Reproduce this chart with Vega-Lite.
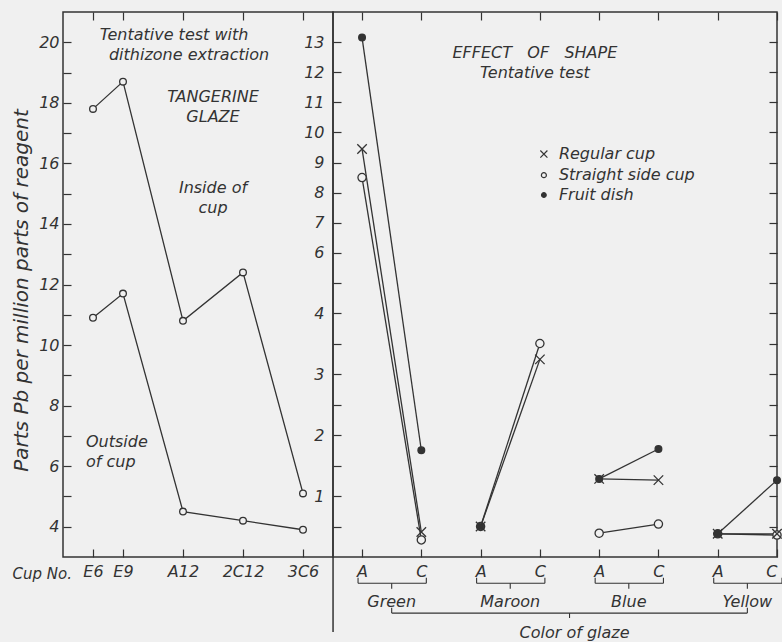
{
  "$schema": "https://vega.github.io/schema/vega-lite/v6.json",
  "background": "#f0f0f0",
  "padding": {"left": 10, "top": 10, "right": 0, "bottom": 0},
  "bounds": "flush",
  "spacing": 0,
  "resolve": {"scale": {"x": "independent", "y": "independent"}, "axis": {"x": "independent", "y": "independent"}},
  "datasets": {
    "cups": [
      {"cup": "E6", "location": "Inside of cup", "ppm": 17.8},
      {"cup": "E9", "location": "Inside of cup", "ppm": 18.7},
      {"cup": "A12", "location": "Inside of cup", "ppm": 10.8},
      {"cup": "2C12", "location": "Inside of cup", "ppm": 12.4},
      {"cup": "3C6", "location": "Inside of cup", "ppm": 5.1},
      {"cup": "E6", "location": "Outside of cup", "ppm": 10.9},
      {"cup": "E9", "location": "Outside of cup", "ppm": 11.7},
      {"cup": "A12", "location": "Outside of cup", "ppm": 4.5},
      {"cup": "2C12", "location": "Outside of cup", "ppm": 4.2},
      {"cup": "3C6", "location": "Outside of cup", "ppm": 3.9}
    ],
    "shape": [
      {"sample": "Green A", "glaze": "Green", "type": "Straight side cup", "ppm": 8.5},
      {"sample": "Green C", "glaze": "Green", "type": "Straight side cup", "ppm": 0.28},
      {"sample": "Maroon A", "glaze": "Maroon", "type": "Straight side cup", "ppm": 0.5},
      {"sample": "Maroon C", "glaze": "Maroon", "type": "Straight side cup", "ppm": 3.5},
      {"sample": "Blue A", "glaze": "Blue", "type": "Straight side cup", "ppm": 0.39},
      {"sample": "Blue C", "glaze": "Blue", "type": "Straight side cup", "ppm": 0.54},
      {"sample": "Yellow A", "glaze": "Yellow", "type": "Straight side cup", "ppm": 0.38},
      {"sample": "Yellow C", "glaze": "Yellow", "type": "Straight side cup", "ppm": 0.36},
      {"sample": "Green A", "glaze": "Green", "type": "Fruit dish", "ppm": 13.15},
      {"sample": "Green C", "glaze": "Green", "type": "Fruit dish", "ppm": 1.75},
      {"sample": "Maroon A", "glaze": "Maroon", "type": "Fruit dish", "ppm": 0.5},
      {"sample": "Blue A", "glaze": "Blue", "type": "Fruit dish", "ppm": 1.28},
      {"sample": "Blue C", "glaze": "Blue", "type": "Fruit dish", "ppm": 1.77},
      {"sample": "Yellow A", "glaze": "Yellow", "type": "Fruit dish", "ppm": 0.38},
      {"sample": "Yellow C", "glaze": "Yellow", "type": "Fruit dish", "ppm": 1.26},
      {"sample": "Green A", "glaze": "Green", "type": "Regular cup", "ppm": 9.45},
      {"sample": "Green C", "glaze": "Green", "type": "Regular cup", "ppm": 0.41},
      {"sample": "Maroon A", "glaze": "Maroon", "type": "Regular cup", "ppm": 0.5},
      {"sample": "Maroon C", "glaze": "Maroon", "type": "Regular cup", "ppm": 3.24},
      {"sample": "Blue A", "glaze": "Blue", "type": "Regular cup", "ppm": 1.28},
      {"sample": "Blue C", "glaze": "Blue", "type": "Regular cup", "ppm": 1.26},
      {"sample": "Yellow A", "glaze": "Yellow", "type": "Regular cup", "ppm": 0.38},
      {"sample": "Yellow C", "glaze": "Yellow", "type": "Regular cup", "ppm": 0.38}
    ],
    "groups": [
      {"glaze": "Green", "a": "Green A", "c": "Green C"},
      {"glaze": "Maroon", "a": "Maroon A", "c": "Maroon C"},
      {"glaze": "Blue", "a": "Blue A", "c": "Blue C"},
      {"glaze": "Yellow", "a": "Yellow A", "c": "Yellow C"}
    ],
    "one": [{}]
  },
  "hconcat": [
    {
      "width": 270,
      "height": 545,
      "resolve": {"axis": {"x": "independent", "y": "independent"}},
      "layer": [
        {
          "data": {"name": "cups"},
          "mark": {"type": "line", "stroke": "#333", "strokeWidth": 1.3},
          "encoding": {
            "x": {"field": "cup", "type": "ordinal",
              "scale": {"type": "point", "domain": ["E6", "E9", "p1", "A12", "p2", "2C12", "p3", "3C6"], "padding": 1.09},
              "axis": {"orient": "bottom", "values": ["E6", "E9", "A12", "2C12", "3C6"], "labelAngle": 0, "labelPadding": 14,
                "title": "Cup No.", "titleFontSize": 15, "titleAlign": "left", "titleAnchor": "start", "titleX": -51, "titleY": 16, "titleBaseline": "middle"}},
            "y": {"field": "ppm", "type": "quantitative",
              "scale": {"domain": [3, 21], "nice": false, "zero": false},
              "axis": {"orient": "left", "values": [4,5,6,7,8,9,10,11,12,13,14,15,16,17,18,19,20], "labelExpr": "datum.value % 2 === 0 ? datum.label : ''",
                "labelPadding": 12, "title": "Parts Pb per million parts of reagent", "titleFontSize": 20, "titlePadding": 7, "titleY": 278}},
            "detail": {"field": "location"}
          }
        },
        {
          "data": {"name": "cups"},
          "mark": {"type": "point", "shape": "circle", "filled": true, "fill": "#f0f0f0", "stroke": "#333", "strokeWidth": 1.3, "size": 45, "opacity": 1},
          "encoding": {
            "x": {"field": "cup", "type": "ordinal",
              "scale": {"type": "point", "domain": ["E6", "E9", "p1", "A12", "p2", "2C12", "p3", "3C6"], "padding": 1.09},
              "axis": {"orient": "top", "values": ["E6", "E9", "A12", "2C12", "3C6"], "labels": false, "title": null}},
            "y": {"field": "ppm", "type": "quantitative", "scale": {"domain": [3, 21], "nice": false, "zero": false}, "axis": null}
          }
        },
        {
          "data": {"name": "one"},
          "mark": {"type": "text", "text": "Tentative test with", "align": "center", "baseline": "middle", "dx": -9},
          "encoding": {
            "x": {"datum": "A12", "type": "ordinal", "scale": {"type": "point", "domain": ["E6", "E9", "p1", "A12", "p2", "2C12", "p3", "3C6"], "padding": 1.09}, "axis": null},
            "y": {"datum": 20.23, "type": "quantitative", "scale": {"domain": [3, 21], "nice": false, "zero": false}, "axis": null}
          }
        },
        {
          "data": {"name": "one"},
          "mark": {"type": "text", "text": "dithizone extraction", "align": "center", "baseline": "middle", "dx": 6},
          "encoding": {
            "x": {"datum": "A12", "type": "ordinal", "scale": {"type": "point", "domain": ["E6", "E9", "p1", "A12", "p2", "2C12", "p3", "3C6"], "padding": 1.09}, "axis": null},
            "y": {"datum": 19.57, "type": "quantitative", "scale": {"domain": [3, 21], "nice": false, "zero": false}, "axis": null}
          }
        },
        {
          "data": {"name": "one"},
          "mark": {"type": "text", "text": ["TANGERINE", "GLAZE"], "align": "center", "baseline": "middle", "lineHeight": 20},
          "encoding": {
            "x": {"datum": "p2", "type": "ordinal", "scale": {"type": "point", "domain": ["E6", "E9", "p1", "A12", "p2", "2C12", "p3", "3C6"], "padding": 1.09}, "axis": null},
            "y": {"datum": 18.18, "type": "quantitative", "scale": {"domain": [3, 21], "nice": false, "zero": false}, "axis": null}
          }
        },
        {
          "data": {"name": "one"},
          "mark": {"type": "text", "text": ["Inside of", "cup"], "align": "center", "baseline": "middle", "lineHeight": 20},
          "encoding": {
            "x": {"datum": "p2", "type": "ordinal", "scale": {"type": "point", "domain": ["E6", "E9", "p1", "A12", "p2", "2C12", "p3", "3C6"], "padding": 1.09}, "axis": null},
            "y": {"datum": 15.18, "type": "quantitative", "scale": {"domain": [3, 21], "nice": false, "zero": false}, "axis": null}
          }
        },
        {
          "data": {"name": "one"},
          "mark": {"type": "text", "text": ["Outside", "of cup"], "align": "left", "baseline": "middle", "lineHeight": 20, "dx": -7},
          "encoding": {
            "x": {"datum": "E6", "type": "ordinal", "scale": {"type": "point", "domain": ["E6", "E9", "p1", "A12", "p2", "2C12", "p3", "3C6"], "padding": 1.09}, "axis": null},
            "y": {"datum": 6.8, "type": "quantitative", "scale": {"domain": [3, 21], "nice": false, "zero": false}, "axis": null}
          }
        }
      ]
    },
    {
      "width": 444,
      "height": 545,
      "resolve": {"axis": {"x": "independent", "y": "independent"}},
      "layer": [
        {
          "data": {"name": "shape"},
          "mark": {"type": "line", "stroke": "#333", "strokeWidth": 1.3},
          "encoding": {
            "x": {"field": "sample", "type": "ordinal",
              "scale": {"type": "point", "domain": ["Green A", "Green", "Green C", "g1", "Maroon A", "Maroon", "Maroon C", "g2", "Blue A", "Blue", "Blue C", "g3", "Yellow A", "Yellow", "Yellow C"], "padding": 0.49, "align": 1},
              "axis": {"orient": "bottom", "values": ["Green A", "Green C", "Maroon A", "Maroon C", "Blue A", "Blue C", "Yellow A", "Yellow C"], "labelExpr": "slice(datum.label, -1)", "labelAngle": 0, "labelPadding": 14,
                "labelAlign": {"condition": {"test": "datum.value === 'Yellow C'", "value": "right"}, "value": "center"}, "title": null}},
            "y": {"field": "ppm", "type": "quantitative",
              "scale": {"domain": [0, 4, 14], "range": [545, 301, 0], "nice": false, "zero": false},
              "axis": {"orient": "left", "values": [0.5,1,1.5,2,2.5,3,3.5,4,5,6,7,8,9,10,11,12,13], "labelExpr": "datum.value % 1 === 0 && datum.value !== 5 ? datum.label : ''", "labelPadding": 17, "title": null}},
            "detail": [{"field": "glaze"}, {"field": "type"}]
          }
        },
        {
          "data": {"name": "shape"},
          "mark": {"type": "point", "filled": true, "stroke": "#333", "strokeWidth": 1.3, "opacity": 1},
          "encoding": {
            "x": {"field": "sample", "type": "ordinal",
              "scale": {"type": "point", "domain": ["Green A", "Green", "Green C", "g1", "Maroon A", "Maroon", "Maroon C", "g2", "Blue A", "Blue", "Blue C", "g3", "Yellow A", "Yellow", "Yellow C"], "padding": 0.49, "align": 1},
              "axis": {"orient": "top", "values": ["Green A", "Green C", "Maroon A", "Maroon C", "Blue A", "Blue C", "Yellow A", "Yellow C"], "labels": false, "title": null}},
            "y": {"field": "ppm", "type": "quantitative",
              "scale": {"domain": [0, 4, 14], "range": [545, 301, 0], "nice": false, "zero": false},
              "axis": {"orient": "right", "values": [0.5,1,1.5,2,2.5,3,3.5,4,5,6,7,8,9,10,11,12,13], "labels": false, "title": null}},
            "shape": {"field": "type", "type": "nominal",
              "scale": {"domain": ["Regular cup", "Straight side cup", "Fruit dish"], "range": ["M-1,-1L1,1M-1,1L1,-1", "circle", "circle"]},
              "legend": null},
            "fill": {"field": "type", "type": "nominal",
              "scale": {"domain": ["Regular cup", "Straight side cup", "Fruit dish"], "range": ["transparent", "#f0f0f0", "#333333"]},
              "legend": null},
            "size": {"field": "type", "type": "nominal",
              "scale": {"domain": ["Regular cup", "Straight side cup", "Fruit dish"], "range": [90, 45, 40]},
              "legend": null}
          }
        },
        {
          "data": {"name": "one"},
          "mark": {"type": "point", "filled": true, "stroke": "#333", "strokeWidth": 1.2, "opacity": 1, "size": 50, "xOffset": 4},
          "encoding": {
            "x": {"datum": "Maroon C", "type": "ordinal",
              "scale": {"type": "point", "domain": ["Green A", "Green", "Green C", "g1", "Maroon A", "Maroon", "Maroon C", "g2", "Blue A", "Blue", "Blue C", "g3", "Yellow A", "Yellow", "Yellow C"], "padding": 0.49, "align": 1}, "axis": null},
            "y": {"datum": 9.28, "type": "quantitative", "scale": {"domain": [0, 4, 14], "range": [545, 301, 0], "nice": false, "zero": false}, "axis": null},
            "shape": {"datum": "Regular cup", "type": "nominal", "legend": null},
            "fill": {"datum": "Regular cup", "type": "nominal", "legend": null}
          }
        },
        {
          "data": {"name": "one"},
          "mark": {"type": "point", "filled": true, "stroke": "#333", "strokeWidth": 1.2, "opacity": 1, "size": 25, "xOffset": 4},
          "encoding": {
            "x": {"datum": "Maroon C", "type": "ordinal",
              "scale": {"type": "point", "domain": ["Green A", "Green", "Green C", "g1", "Maroon A", "Maroon", "Maroon C", "g2", "Blue A", "Blue", "Blue C", "g3", "Yellow A", "Yellow", "Yellow C"], "padding": 0.49, "align": 1}, "axis": null},
            "y": {"datum": 8.58, "type": "quantitative", "scale": {"domain": [0, 4, 14], "range": [545, 301, 0], "nice": false, "zero": false}, "axis": null},
            "shape": {"datum": "Straight side cup", "type": "nominal", "legend": null},
            "fill": {"datum": "Straight side cup", "type": "nominal", "legend": null}
          }
        },
        {
          "data": {"name": "one"},
          "mark": {"type": "point", "filled": true, "stroke": "#333", "strokeWidth": 1.2, "opacity": 1, "size": 22, "xOffset": 4},
          "encoding": {
            "x": {"datum": "Maroon C", "type": "ordinal",
              "scale": {"type": "point", "domain": ["Green A", "Green", "Green C", "g1", "Maroon A", "Maroon", "Maroon C", "g2", "Blue A", "Blue", "Blue C", "g3", "Yellow A", "Yellow", "Yellow C"], "padding": 0.49, "align": 1}, "axis": null},
            "y": {"datum": 7.92, "type": "quantitative", "scale": {"domain": [0, 4, 14], "range": [545, 301, 0], "nice": false, "zero": false}, "axis": null},
            "shape": {"datum": "Fruit dish", "type": "nominal", "legend": null},
            "fill": {"datum": "Fruit dish", "type": "nominal", "legend": null}
          }
        },
        {
          "data": {"name": "one"},
          "mark": {"type": "text", "text": ["Regular cup", "Straight side cup", "Fruit dish"], "align": "left", "baseline": "middle", "lineHeight": 20.5, "dx": 19},
          "encoding": {
            "x": {"datum": "Maroon C", "type": "ordinal",
              "scale": {"type": "point", "domain": ["Green A", "Green", "Green C", "g1", "Maroon A", "Maroon", "Maroon C", "g2", "Blue A", "Blue", "Blue C", "g3", "Yellow A", "Yellow", "Yellow C"], "padding": 0.49, "align": 1}, "axis": null},
            "y": {"datum": 9.28, "type": "quantitative", "scale": {"domain": [0, 4, 14], "range": [545, 301, 0], "nice": false, "zero": false}, "axis": null}
          }
        },
        {
          "data": {"name": "groups"},
          "mark": {"type": "text", "align": "center", "baseline": "middle"},
          "encoding": {
            "text": {"field": "glaze"},
            "x": {"field": "glaze", "type": "ordinal",
              "scale": {"type": "point", "domain": ["Green A", "Green", "Green C", "g1", "Maroon A", "Maroon", "Maroon C", "g2", "Blue A", "Blue", "Blue C", "g3", "Yellow A", "Yellow", "Yellow C"], "padding": 0.49, "align": 1}, "axis": null},
            "y": {"datum": -0.74, "type": "quantitative", "scale": {"domain": [0, 4, 14], "range": [545, 301, 0], "nice": false, "zero": false}, "axis": null}
          }
        },
        {
          "data": {"name": "groups"},
          "mark": {"type": "rule", "stroke": "#333", "strokeWidth": 1.1, "xOffset": -4, "x2Offset": 5},
          "encoding": {
            "x": {"field": "a", "type": "ordinal",
              "scale": {"type": "point", "domain": ["Green A", "Green", "Green C", "g1", "Maroon A", "Maroon", "Maroon C", "g2", "Blue A", "Blue", "Blue C", "g3", "Yellow A", "Yellow", "Yellow C"], "padding": 0.49, "align": 1}, "axis": null},
            "x2": {"field": "c"},
            "y": {"datum": -0.43, "type": "quantitative", "scale": {"domain": [0, 4, 14], "range": [545, 301, 0], "nice": false, "zero": false}, "axis": null}
          }
        },
        {
          "data": {"name": "groups"},
          "mark": {"type": "rule", "stroke": "#333", "strokeWidth": 1.1, "xOffset": -4},
          "encoding": {
            "x": {"field": "a", "type": "ordinal",
              "scale": {"type": "point", "domain": ["Green A", "Green", "Green C", "g1", "Maroon A", "Maroon", "Maroon C", "g2", "Blue A", "Blue", "Blue C", "g3", "Yellow A", "Yellow", "Yellow C"], "padding": 0.49, "align": 1}, "axis": null},
            "y": {"datum": -0.43, "type": "quantitative", "scale": {"domain": [0, 4, 14], "range": [545, 301, 0], "nice": false, "zero": false}, "axis": null},
            "y2": {"datum": -0.34}
          }
        },
        {
          "data": {"name": "groups"},
          "mark": {"type": "rule", "stroke": "#333", "strokeWidth": 1.1, "xOffset": 5},
          "encoding": {
            "x": {"field": "c", "type": "ordinal",
              "scale": {"type": "point", "domain": ["Green A", "Green", "Green C", "g1", "Maroon A", "Maroon", "Maroon C", "g2", "Blue A", "Blue", "Blue C", "g3", "Yellow A", "Yellow", "Yellow C"], "padding": 0.49, "align": 1}, "axis": null},
            "y": {"datum": -0.43, "type": "quantitative", "scale": {"domain": [0, 4, 14], "range": [545, 301, 0], "nice": false, "zero": false}, "axis": null},
            "y2": {"datum": -0.34}
          }
        },
        {
          "data": {"name": "groups"},
          "mark": {"type": "rule", "stroke": "#333", "strokeWidth": 1.1},
          "encoding": {
            "x": {"field": "glaze", "type": "ordinal",
              "scale": {"type": "point", "domain": ["Green A", "Green", "Green C", "g1", "Maroon A", "Maroon", "Maroon C", "g2", "Blue A", "Blue", "Blue C", "g3", "Yellow A", "Yellow", "Yellow C"], "padding": 0.49, "align": 1}, "axis": null},
            "y": {"datum": -0.43, "type": "quantitative", "scale": {"domain": [0, 4, 14], "range": [545, 301, 0], "nice": false, "zero": false}, "axis": null},
            "y2": {"datum": -0.52}
          }
        },
        {
          "data": {"name": "one"},
          "mark": {"type": "rule", "stroke": "#333", "strokeWidth": 1.1},
          "encoding": {
            "x": {"datum": "Green", "type": "ordinal",
              "scale": {"type": "point", "domain": ["Green A", "Green", "Green C", "g1", "Maroon A", "Maroon", "Maroon C", "g2", "Blue A", "Blue", "Blue C", "g3", "Yellow A", "Yellow", "Yellow C"], "padding": 0.49, "align": 1}, "axis": null},
            "x2": {"datum": "Yellow"},
            "y": {"datum": -0.92, "type": "quantitative", "scale": {"domain": [0, 4, 14], "range": [545, 301, 0], "nice": false, "zero": false}, "axis": null}
          }
        },
        {
          "data": {"name": "one"},
          "mark": {"type": "rule", "stroke": "#333", "strokeWidth": 1.1},
          "encoding": {
            "x": {"datum": "Green", "type": "ordinal",
              "scale": {"type": "point", "domain": ["Green A", "Green", "Green C", "g1", "Maroon A", "Maroon", "Maroon C", "g2", "Blue A", "Blue", "Blue C", "g3", "Yellow A", "Yellow", "Yellow C"], "padding": 0.49, "align": 1}, "axis": null},
            "y": {"datum": -0.92, "type": "quantitative", "scale": {"domain": [0, 4, 14], "range": [545, 301, 0], "nice": false, "zero": false}, "axis": null},
            "y2": {"datum": -0.83}
          }
        },
        {
          "data": {"name": "one"},
          "mark": {"type": "rule", "stroke": "#333", "strokeWidth": 1.1},
          "encoding": {
            "x": {"datum": "Yellow", "type": "ordinal",
              "scale": {"type": "point", "domain": ["Green A", "Green", "Green C", "g1", "Maroon A", "Maroon", "Maroon C", "g2", "Blue A", "Blue", "Blue C", "g3", "Yellow A", "Yellow", "Yellow C"], "padding": 0.49, "align": 1}, "axis": null},
            "y": {"datum": -0.92, "type": "quantitative", "scale": {"domain": [0, 4, 14], "range": [545, 301, 0], "nice": false, "zero": false}, "axis": null},
            "y2": {"datum": -0.83}
          }
        },
        {
          "data": {"name": "one"},
          "mark": {"type": "rule", "stroke": "#333", "strokeWidth": 1.1},
          "encoding": {
            "x": {"datum": "g2", "type": "ordinal",
              "scale": {"type": "point", "domain": ["Green A", "Green", "Green C", "g1", "Maroon A", "Maroon", "Maroon C", "g2", "Blue A", "Blue", "Blue C", "g3", "Yellow A", "Yellow", "Yellow C"], "padding": 0.49, "align": 1}, "axis": null},
            "y": {"datum": -0.92, "type": "quantitative", "scale": {"domain": [0, 4, 14], "range": [545, 301, 0], "nice": false, "zero": false}, "axis": null},
            "y2": {"datum": -1.0}
          }
        },
        {
          "data": {"name": "one"},
          "mark": {"type": "text", "text": "Color of glaze", "align": "center", "baseline": "middle", "dx": 5},
          "encoding": {
            "x": {"datum": "g2", "type": "ordinal",
              "scale": {"type": "point", "domain": ["Green A", "Green", "Green C", "g1", "Maroon A", "Maroon", "Maroon C", "g2", "Blue A", "Blue", "Blue C", "g3", "Yellow A", "Yellow", "Yellow C"], "padding": 0.49, "align": 1}, "axis": null},
            "y": {"datum": -1.25, "type": "quantitative", "scale": {"domain": [0, 4, 14], "range": [545, 301, 0], "nice": false, "zero": false}, "axis": null}
          }
        },
        {
          "data": {"name": "one"},
          "mark": {"type": "text", "text": ["EFFECT\u00a0\u00a0 OF\u00a0\u00a0 SHAPE", "Tentative test"], "align": "center", "baseline": "middle", "lineHeight": 20, "dx": -5},
          "encoding": {
            "x": {"datum": "Maroon C", "type": "ordinal",
              "scale": {"type": "point", "domain": ["Green A", "Green", "Green C", "g1", "Maroon A", "Maroon", "Maroon C", "g2", "Blue A", "Blue", "Blue C", "g3", "Yellow A", "Yellow", "Yellow C"], "padding": 0.49, "align": 1}, "axis": null},
            "y": {"datum": 12.64, "type": "quantitative", "scale": {"domain": [0, 4, 14], "range": [545, 301, 0], "nice": false, "zero": false}, "axis": null}
          }
        },
        {
          "data": {"name": "one"},
          "mark": {"type": "rule", "stroke": "#333", "strokeWidth": 1.5, "xOffset": -29},
          "encoding": {
            "x": {"datum": "Green A", "type": "ordinal",
              "scale": {"type": "point", "domain": ["Green A", "Green", "Green C", "g1", "Maroon A", "Maroon", "Maroon C", "g2", "Blue A", "Blue", "Blue C", "g3", "Yellow A", "Yellow", "Yellow C"], "padding": 0.49, "align": 1}, "axis": null},
            "y": {"datum": 0, "type": "quantitative", "scale": {"domain": [0, 4, 14], "range": [545, 301, 0], "nice": false, "zero": false}, "axis": null},
            "y2": {"datum": -1.23}
          }
        }
      ]
    }
  ],
  "config": {
    "view": {"stroke": "#333", "strokeWidth": 1.5},
    "axis": {"domain": false, "grid": false, "tickColor": "#333", "tickSize": -8, "tickWidth": 1.2,
      "labelFont": "DejaVu Sans", "labelFontStyle": "italic", "labelFontSize": 16, "labelColor": "#333",
      "titleFont": "DejaVu Sans", "titleFontStyle": "italic", "titleFontWeight": "normal", "titleColor": "#333"},
    "text": {"font": "DejaVu Sans", "fontStyle": "italic", "fontSize": 16, "color": "#333"}
  }
}
